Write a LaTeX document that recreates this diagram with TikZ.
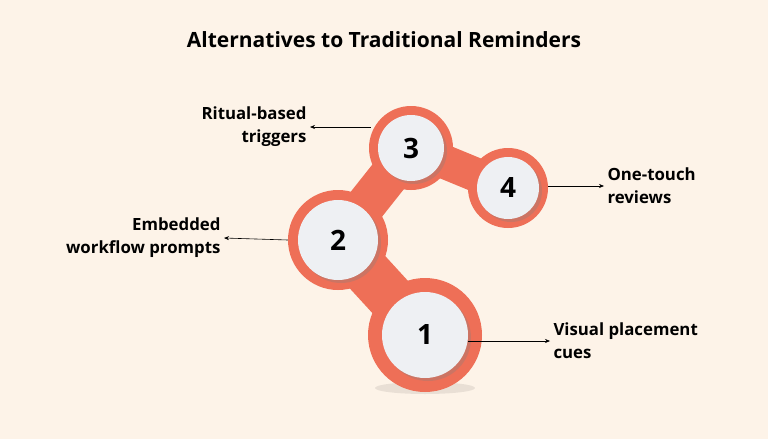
\documentclass[tikz,border=0pt]{standalone}
\usepackage{fontspec}
\setmainfont{Open Sans}
\usetikzlibrary{arrows.meta,shadows}
\definecolor{bg}{HTML}{FDF3E8}
\definecolor{org}{HTML}{EE6F57}
\definecolor{wh}{HTML}{EEF0F3}
\tikzset{
 outer/.style={circle,fill=org,inner sep=0pt},
 inner/.style={circle,fill=wh,inner sep=0pt,font=\bfseries\fontsize{28}{30}\selectfont,drop shadow={shadow xshift=3pt,shadow yshift=-3pt,opacity=0.3}},
 lbl/.style={font=\fontsize{16.8}{23}\selectfont\bfseries},
 arr/.style={-{Stealth[length=5pt,width=4pt]},line width=0.6pt,black},
 blob/.style={org,line cap=round}
}
\begin{document}
\begin{tikzpicture}[x=1pt,y=-1pt]
\fill[bg] (0,0) rectangle (768,439);
\useasboundingbox (0,0) rectangle (768,439);
\node[font=\bfseries\fontsize{21}{24}\selectfont] (t) at (384,40) {Alternatives to Traditional Reminders};
\fill[black,opacity=0.08] (425,388) ellipse (50 and 6);
\coordinate (p1) at (425,335);
\coordinate (p2) at (338,240);
\coordinate (p3) at (411,148);
\coordinate (p4) at (508,188);
\draw[blob,line width=48pt] (p1) -- (p2);
\draw[blob,line width=40pt] (p2) -- (p3);
\draw[blob,line width=34pt] (p3) -- (p4);
\node[outer,minimum size=114pt] (o1) at (p1) {};
\node[outer,minimum size=100pt] (o2) at (p2) {};
\node[outer,minimum size=84pt] (o3) at (p3) {};
\node[outer,minimum size=80pt] (o4) at (p4) {};
\node[inner,minimum size=86pt] (c1) at (p1) {1};
\node[inner,minimum size=80pt] (c2) at (p2) {2};
\node[inner,minimum size=66pt] (c3) at (p3) {3};
\node[inner,minimum size=62pt] (c4) at (p4) {4};
\node[lbl,align=right,anchor=east] (l3) at (310,127) {Ritual-based\\triggers};
\node[lbl,align=right,anchor=east] (l2) at (224,238) {Embedded\\workflow prompts};
\node[lbl,align=left,anchor=west] (l4) at (604,186) {One-touch\\reviews};
\node[lbl,align=left,anchor=west] (l1) at (550,341) {Visual placement\\cues};
\draw[arr] (o3.west |- 0,127) ++(2,0) -- (l3.east);
\draw[arr] (o2.west) -- (l2.east);
\draw[arr] (o4.east |- 0,186) -- (l4.west);
\draw[arr] (c1.east |- 0,341) -- (l1.west);
\end{tikzpicture}
\end{document}
